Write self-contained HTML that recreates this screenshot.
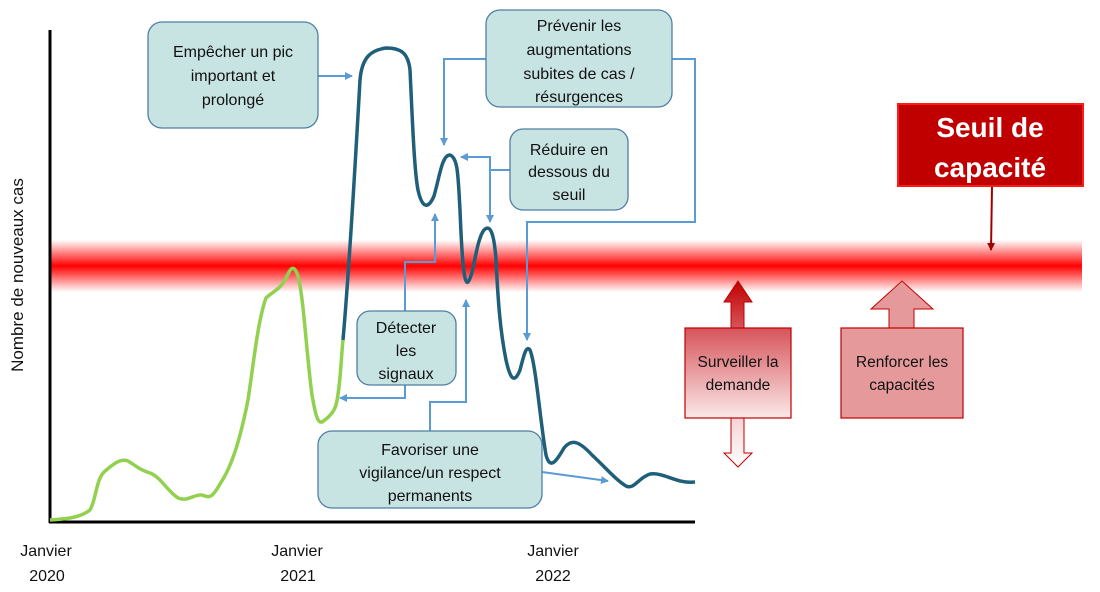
<!DOCTYPE html>
<html><head><meta charset="utf-8"><style>
body{margin:0;background:#fff;}
svg{display:block;font-family:"Liberation Sans",Calibri,sans-serif;}
</style></head><body>
<svg width="1100" height="592" viewBox="0 0 1100 592" xmlns="http://www.w3.org/2000/svg">
<defs>
<linearGradient id="band" x1="0" y1="0" x2="0" y2="1">
<stop offset="0" stop-color="#ff0000" stop-opacity="0"/>
<stop offset="0.5" stop-color="#ff0000" stop-opacity="1"/>
<stop offset="1" stop-color="#ff0000" stop-opacity="0"/>
</linearGradient>
<linearGradient id="surv" x1="0" y1="0" x2="0" y2="1">
<stop offset="0" stop-color="#d6545a"/>
<stop offset="1" stop-color="#fbe9e9"/>
</linearGradient>
<linearGradient id="survUp" x1="0" y1="0" x2="0" y2="1">
<stop offset="0" stop-color="#c00000"/>
<stop offset="1" stop-color="#d6545a"/>
</linearGradient>
<linearGradient id="survDn" x1="0" y1="0" x2="0" y2="1">
<stop offset="0" stop-color="#f6d3d4"/>
<stop offset="1" stop-color="#ffffff"/>
</linearGradient>
<marker id="ab" markerWidth="8" markerHeight="8" refX="7" refY="4" orient="auto" markerUnits="userSpaceOnUse"><path d="M0,0 L8,4 L0,8 z" fill="#5b9bd5"/></marker>
<marker id="ar" markerWidth="8" markerHeight="8" refX="7" refY="4" orient="auto" markerUnits="userSpaceOnUse"><path d="M0,0 L8,4 L0,8 z" fill="#a00000"/></marker>
</defs>

<rect x="50" y="240" width="1032" height="52" fill="url(#band)"/>

<!-- axes -->
<line x1="50" y1="30" x2="50" y2="523" stroke="#000" stroke-width="3"/>
<line x1="49" y1="522" x2="695" y2="522" stroke="#000" stroke-width="3"/>

<!-- curves -->
<path d="M50,520 C65,519 80,518 90,510 C96,500 96,480 104,472 C112,465 120,458 128,461 C136,466 140,470 150,473 C162,478 166,490 178,498 C188,502 194,494 202,495 C210,498 212,498 220,484 C232,466 240,440 248,400 C254,360 258,320 266,298 C272,292 280,290 286,278 C290,270 293,262 298,276 C304,300 306,350 312,395 C316,418 318,423 322,422 C328,418 334,412 336,405 C340,390 341,360 343,340" fill="none" stroke="#92d050" stroke-width="3.5" stroke-linejoin="round"/>
<path d="M343,340 C350,260 356,150 360,80 C362,56 372,50 386,48 C400,48 408,52 410,70 C412,110 414,170 418,190 C422,208 428,210 434,196 C440,175 442,155 450,155 C458,158 458,175 460,210 C462,260 464,285 468,282 C474,275 476,240 484,230 C490,224 494,232 496,260 C498,300 500,330 506,360 C510,378 514,385 520,370 C524,355 526,345 530,350 C536,365 540,420 546,455 C550,470 556,462 564,448 C572,438 580,442 592,455 C606,468 616,480 626,486 C634,490 638,478 650,474 C664,472 676,484 695,482" fill="none" stroke="#1f5f7a" stroke-width="3.5" stroke-linejoin="round"/>

<!-- connectors -->
<g fill="none" stroke="#5b9bd5" stroke-width="2">
<line x1="318" y1="76" x2="352" y2="76" marker-end="url(#ab)"/>
<polyline points="486,59 444,59 444,145" marker-end="url(#ab)"/>
<polyline points="672,59 695,59 695,222 527,222 527,340" marker-end="url(#ab)"/>
<polyline points="510,170 490,170 490,157 461,157" marker-end="url(#ab)"/>
<polyline points="490,170 490,222" marker-end="url(#ab)"/>
<polyline points="405,311 405,262 435,262 435,214" marker-end="url(#ab)"/>
<polyline points="405,385 405,398 340,398" marker-end="url(#ab)"/>
<polyline points="430,431 430,402 466,402 466,300" marker-end="url(#ab)"/>
<line x1="542" y1="472" x2="608" y2="481" marker-end="url(#ab)"/>
</g>

<!-- teal boxes -->
<g fill="#c8e4e2" stroke="#4e7fa3" stroke-width="1.3">
<rect x="148" y="22" width="170" height="106" rx="14"/>
<rect x="486" y="10" width="186" height="97" rx="14"/>
<rect x="510" y="129" width="118" height="81" rx="13"/>
<rect x="357" y="311" width="99" height="74" rx="13"/>
<rect x="318" y="431" width="224" height="77" rx="14"/>
</g>
<g font-size="16" fill="#111" text-anchor="middle">
<text x="233" y="57">Empêcher un pic</text>
<text x="233" y="81">important et</text>
<text x="233" y="105">prolongé</text>
<text x="579" y="31">Prévenir les</text>
<text x="579" y="55">augmentations</text>
<text x="579" y="79">subites de cas /</text>
<text x="579" y="102">résurgences</text>
<text x="569" y="155">Réduire en</text>
<text x="569" y="177">dessous du</text>
<text x="569" y="200">seuil</text>
<text x="406" y="333">Détecter</text>
<text x="406" y="356">les</text>
<text x="406" y="379">signaux</text>
<text x="430" y="455">Favoriser une</text>
<text x="430" y="478">vigilance/un respect</text>
<text x="430" y="501">permanents</text>
</g>

<!-- seuil -->
<rect x="898" y="104" width="185" height="82" fill="#c00000" stroke="#ff1a1a" stroke-width="2"/>
<text x="990" y="137" font-size="28" font-weight="bold" fill="#fff" text-anchor="middle">Seuil de</text>
<text x="990" y="177" font-size="28" font-weight="bold" fill="#fff" text-anchor="middle">capacité</text>
<line x1="992" y1="187" x2="991" y2="250" stroke="#a00000" stroke-width="2" marker-end="url(#ar)"/>

<!-- surveiller -->
<polygon points="731,328 731,302 724,302 738,281 752,302 744,302 744,328" fill="url(#survUp)" stroke="#c00000" stroke-width="1"/>
<polygon points="731,418 731,453 724,453 738,467 752,453 744,453 744,418" fill="url(#survDn)" stroke="#c00000" stroke-width="1"/>
<rect x="685" y="328" width="106" height="90" fill="url(#surv)" stroke="#c00000" stroke-width="1.2"/>
<text x="738" y="367" font-size="15.5" fill="#111" text-anchor="middle">Surveiller la</text>
<text x="738" y="390" font-size="15.5" fill="#111" text-anchor="middle">demande</text>

<!-- renforcer -->
<polygon points="889,328 889,309 871,309 902,281 933,309 914,309 914,328" fill="#e5999b" stroke="#c00000" stroke-width="1"/>
<rect x="841" y="328" width="122" height="90" fill="#e5999b" stroke="#c00000" stroke-width="1.2"/>
<text x="902" y="367" font-size="15.5" fill="#111" text-anchor="middle">Renforcer les</text>
<text x="902" y="390" font-size="15.5" fill="#111" text-anchor="middle">capacités</text>

<!-- axis labels -->
<g font-size="16" fill="#111" text-anchor="middle">
<text x="46" y="556">Janvier</text>
<text x="47" y="581">2020</text>
<text x="297" y="556">Janvier</text>
<text x="298" y="581">2021</text>
<text x="553" y="556">Janvier</text>
<text x="553" y="581">2022</text>
</g>
<text transform="translate(23,275) rotate(-90)" font-size="17" fill="#111" text-anchor="middle">Nombre de nouveaux cas</text>
</svg>
</body></html>
